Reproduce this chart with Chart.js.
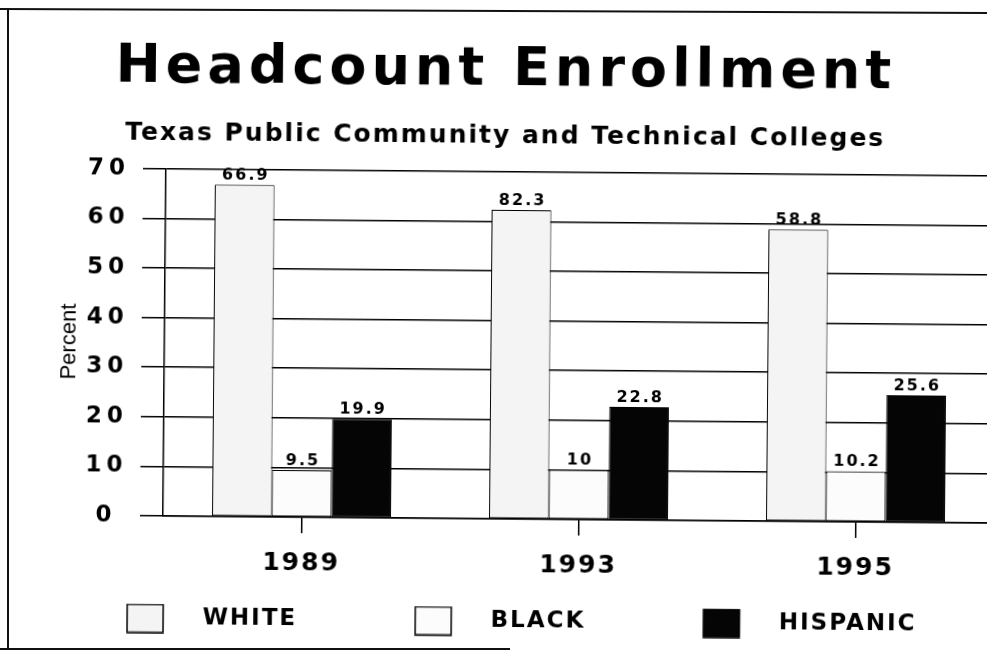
<!DOCTYPE html>
<html>
<head>
<meta charset="utf-8">
<title>Headcount Enrollment</title>
<script src="https://cdn.jsdelivr.net/npm/chart.js@4.4.1/dist/chart.umd.min.js"></script>
<style>
    html, body { margin: 0; overflow: hidden; background: #fff; }
    #sheet { position: relative; width: 987px; height: 653px; overflow: hidden; background: #fff; }
    /* the scanned page is slightly turned, so the chart is too */
    #page { position: absolute; left: 0; top: 0; width: 1000px; height: 653px; transform: rotate(0.49deg); transform-origin: 163px 517px; }
    .frame-left { position: absolute; left: 7px; top: 8px; width: 2px; height: 640px; background: #111; }
    .frame-top { position: absolute; left: 0; top: 8px; width: 987px; height: 2px; background: #111; transform: rotate(0.23deg); transform-origin: 0 0; }
    .frame-bottom { position: absolute; left: 0; top: 648px; width: 510px; height: 2px; background: #111; }
</style>
</head>
<body>
<div id="sheet">
    <div class="frame-left"></div>
    <div class="frame-top"></div>
    <div class="frame-bottom"></div>
    <div id="page">
        <canvas id="enrollmentChart" width="1000" height="653"></canvas>
    </div>
</div>
<script>
// Daten aus der Grafik
const years = ['1989', '1993', '1995'];
const seriesNames = ['WHITE', 'BLACK', 'HISPANIC'];
const whiteValues = [66.9, 62.3, 58.8];
const blackValues = [9.5, 10, 10.2];
const hispanicValues = [19.9, 22.8, 25.6];
// Beschriftungen ueber den Balken, so wie sie gedruckt sind
const whiteLabels = ['66.9', '82.3', '58.8'];
const blackLabels = ['9.5', '10', '10.2'];
const hispanicLabels = ['19.9', '22.8', '25.6'];

const baseSpacing = '2px';

// Legendenkaestchen mit Abstand links und rechts (Bild als pointStyle)
function makeSwatch(fill) {
    const c = document.createElement('canvas');
    c.width = 172;
    c.height = 30;
    const g = c.getContext('2d');
    g.fillStyle = fill;
    g.fillRect(108, 1, 36, 28);
    g.strokeStyle = '#000';
    g.lineWidth = 1.5;
    g.strokeRect(108, 1, 36, 28);
    return c;
}

// Buchstabenabstand fuer einzelne Zeichenfunktionen setzen
function withSpacing(obj, method, spacing) {
    const original = obj[method];
    obj[method] = function (...args) {
        const ctx = this.ctx;
        const saved = ctx.letterSpacing;
        ctx.letterSpacing = spacing;
        original.apply(this, args);
        ctx.letterSpacing = saved;
    };
}

const spacingPlugin = {
    id: 'spacing',
    beforeUpdate(chart) {
        chart.ctx.letterSpacing = baseSpacing;
    },
    beforeDraw(chart) {
        chart.ctx.letterSpacing = baseSpacing;
        if (chart.$spaced) return;
        chart.$spaced = true;
        withSpacing(chart.titleBlock, 'draw', '5px');
        withSpacing(chart.scales.y, 'drawLabels', '5px');
        withSpacing(chart.scales.y, 'drawTitle', '0px');
    }
};

// Werte ueber den Balken
const valueLabelPlugin = {
    id: 'valueLabels',
    afterDatasetsDraw(chart) {
        const ctx = chart.ctx;
        ctx.save();
        ctx.font = 'bold 16px "DejaVu Sans"';
        ctx.fillStyle = '#000';
        ctx.textAlign = 'center';
        ctx.textBaseline = 'alphabetic';
        ctx.letterSpacing = '2px';
        chart.data.datasets.forEach((ds, i) => {
            chart.getDatasetMeta(i).data.forEach((bar, j) => {
                ctx.fillText(ds.valueLabels[j], bar.x + 1, bar.y - 5);
            });
        });
        ctx.restore();
    }
};

Chart.defaults.font.family = '"DejaVu Sans"';
Chart.defaults.color = '#000';

const fills = ['#f4f4f4', '#fcfcfc', '#050505'];

new Chart(document.getElementById('enrollmentChart'), {
    type: 'bar',
    data: {
        labels: years,
        datasets: [
            { label: seriesNames[0], data: whiteValues, valueLabels: whiteLabels, backgroundColor: fills[0], pointStyle: makeSwatch(fills[0]) },
            { label: seriesNames[1], data: blackValues, valueLabels: blackLabels, backgroundColor: fills[1], pointStyle: makeSwatch(fills[1]) },
            { label: seriesNames[2], data: hispanicValues, valueLabels: hispanicLabels, backgroundColor: fills[2], pointStyle: makeSwatch(fills[2]) }
        ].map(ds => Object.assign(ds, {
            borderColor: '#000',
            borderWidth: 1,
            borderSkipped: false,
            categoryPercentage: 0.646,
            barPercentage: 1.0
        }))
    },
    options: {
        responsive: false,
        animation: false,
        layout: { padding: { left: 10, right: 6, top: 10, bottom: 13 } },
        plugins: {
            tooltip: { enabled: false },
            title: {
                display: true,
                text: 'Headcount Enrollment',
                color: '#000',
                font: { size: 54, weight: 'bold' },
                padding: { top: 26, bottom: 0 }
            },
            subtitle: {
                display: true,
                text: 'Texas Public Community and Technical Colleges',
                color: '#000',
                font: { size: 25, weight: 'bold' },
                padding: { top: 18, bottom: 20 }
            },
            legend: {
                position: 'bottom',
                align: 'start',
                labels: {
                    usePointStyle: true,
                    pointStyleWidth: 172,
                    boxHeight: 23,
                    padding: 10,
                    color: '#000',
                    font: { size: 23, weight: 'bold' }
                }
            }
        },
        scales: {
            x: {
                grid: { drawOnChartArea: false, offset: false, tickLength: 16, color: '#000', lineWidth: 1.5 },
                border: { color: '#000', width: 1.5 },
                ticks: { padding: 15, font: { size: 25, weight: 'bold' } },
                afterFit(scale) { scale.height = 81; }
            },
            y: {
                min: 0,
                max: 70,
                grid: { color: '#000', lineWidth: 1.5, tickLength: 23 },
                border: { color: '#000', width: 1.5 },
                ticks: { stepSize: 10, padding: 16, crossAlign: 'center', font: { size: 23, weight: 'bold' } },
                title: {
                    display: true,
                    text: 'Percent',
                    font: { family: '"Liberation Sans"', size: 22, weight: 'normal' },
                    padding: { top: 45, bottom: 0 }
                },
                afterFit(scale) { scale.width = 153; }
            }
        }
    },
    plugins: [spacingPlugin, valueLabelPlugin]
});
</script>
</body>
</html>
